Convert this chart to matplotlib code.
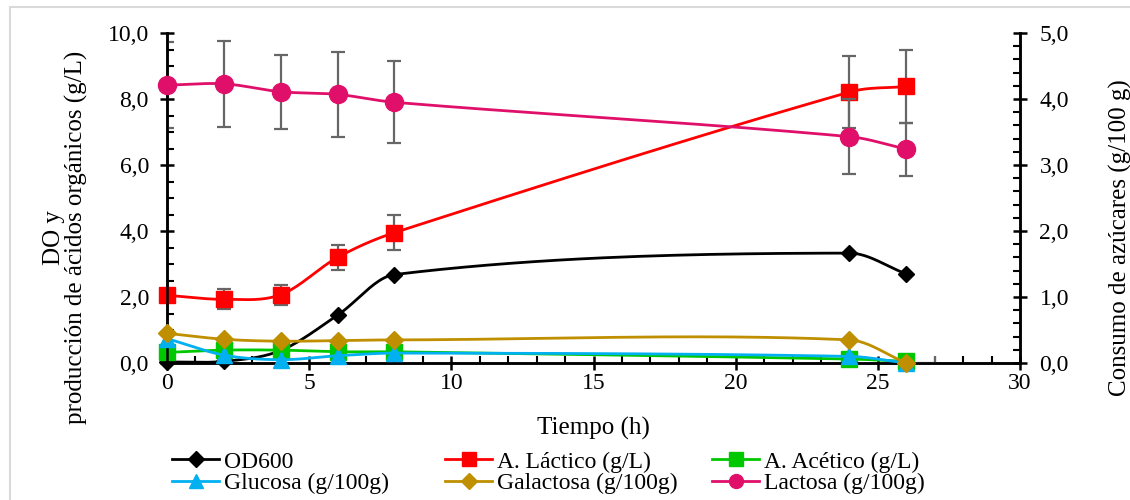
import numpy as np
import matplotlib
matplotlib.use('Agg')
import matplotlib.pyplot as plt
from matplotlib.lines import Line2D
from matplotlib.patches import Rectangle
from matplotlib.ticker import MultipleLocator, FuncFormatter

plt.rcParams['font.family'] = ['Liberation Serif', 'DejaVu Serif']
plt.rcParams['font.size'] = 17

# datos
tiempo = [0, 2, 4, 6, 8, 24, 26]
od600 = [0.03, 0.05, 0.38, 1.45, 2.68, 3.33, 2.70]
lactico = [2.05, 1.93, 2.07, 3.20, 3.95, 8.21, 8.38]
lactico_err = [0.12, 0.30, 0.30, 0.37, 0.54, 1.10, 1.10]
acetico = [0.32, 0.39, 0.39, 0.34, 0.34, 0.12, 0.05]
glucosa = [0.37, 0.12, 0.05, 0.11, 0.15, 0.10, 0.0]
galactosa = [0.45, 0.36, 0.33, 0.34, 0.35, 0.35, 0.0]
lactosa = [4.21, 4.23, 4.11, 4.07, 3.95, 3.43, 3.24]
lactosa_err = [0.65, 0.65, 0.56, 0.64, 0.62, 0.565, 0.40]
glucosa_xerr = [0, 0, 0, 0, 0, 0, 1.0]

col_od = 'black'
col_lac = '#FF0000'
col_ace = '#00C800'
col_glu = '#00B0F0'
col_gal = '#BF8F00'
col_lcs = '#E0106A'
col_err = '#666666'


def suavizar(x, y, n=40):
    # linea suavizada (Hermite cubico en x)
    x = np.array(x, float)
    y = np.array(y, float)
    m = np.zeros_like(y)
    m[1:-1] = (y[2:] - y[:-2]) / (x[2:] - x[:-2])
    m[0] = (y[1] - y[0]) / (x[1] - x[0])
    m[-1] = (y[-1] - y[-2]) / (x[-1] - x[-2])
    xs, ys = [x[0]], [y[0]]
    for i in range(len(x) - 1):
        h = x[i + 1] - x[i]
        s = np.linspace(0, 1, n)[1:]
        h00 = 2 * s ** 3 - 3 * s ** 2 + 1
        h10 = s ** 3 - 2 * s ** 2 + s
        h01 = -2 * s ** 3 + 3 * s ** 2
        h11 = s ** 3 - s ** 2
        xs.extend(x[i] + s * h)
        ys.extend(h00 * y[i] + h10 * h * m[i] + h01 * y[i + 1] + h11 * h * m[i + 1])
    return np.array(xs), np.array(ys)


fig = plt.figure(figsize=(11.3, 5), dpi=100)
fig.patches.append(Rectangle((10 / 1130, -0.1), 1.2, 1.1 - 7 / 500, transform=fig.transFigure,
                             fill=False, edgecolor='#D9D9D9', linewidth=1.5))

ax = fig.add_axes([167 / 1130, 1 - 363 / 500, (1020 - 167) / 1130, 330 / 500])
ax2 = ax.twinx()

lw = 2.0

# eje izquierdo
ax.errorbar(tiempo, lactico, yerr=lactico_err, fmt='none', ecolor=col_err, elinewidth=1.6, capsize=5, capthick=1.6, zorder=2)
for ys, c, m, ms in [(od600, col_od, 'D', 8.5), (lactico, col_lac, 's', 11.5), (acetico, col_ace, 's', 11.5)]:
    xs, yy = suavizar(tiempo, ys)
    ax.plot(xs, yy, color=c, lw=lw, zorder=3)
    ax.plot(tiempo, ys, ls='none', marker=m, ms=ms, color=c, zorder=4, clip_on=False)

# eje derecho
ax2.errorbar(tiempo, lactosa, yerr=lactosa_err, fmt='none', ecolor=col_err, elinewidth=1.6, capsize=5, capthick=1.6, zorder=2)
ax2.errorbar(tiempo, glucosa, xerr=[[0] * 7, glucosa_xerr], fmt='none', ecolor=col_err, elinewidth=1.6, capsize=5, capthick=1.6, zorder=2)
for ys, c, m, ms in [(glucosa, col_glu, '^', 11), (galactosa, col_gal, 'D', 9.5), (lactosa, col_lcs, 'o', 13)]:
    xs, yy = suavizar(tiempo, ys)
    ax2.plot(xs, yy, color=c, lw=lw, zorder=3)
    ax2.plot(tiempo, ys, ls='none', marker=m, ms=ms, color=c, zorder=4, clip_on=False)

coma = FuncFormatter(lambda v, p: f'{v:.1f}'.replace('.', ','))

ax.set_xlim(0, 30)
ax.set_ylim(0, 10)
ax2.set_ylim(0, 5)
ax.xaxis.set_major_locator(MultipleLocator(5))
ax.xaxis.set_minor_locator(MultipleLocator(1))
ax.yaxis.set_major_locator(MultipleLocator(2))
ax.yaxis.set_minor_locator(MultipleLocator(0.5))
ax2.yaxis.set_major_locator(MultipleLocator(1))
ax2.yaxis.set_minor_locator(MultipleLocator(0.2))
ax.yaxis.set_major_formatter(coma)
ax2.yaxis.set_major_formatter(coma)

for a in (ax, ax2):
    a.spines['top'].set_visible(False)
    for s in a.spines.values():
        s.set_linewidth(1.8)
    a.tick_params(which='major', direction='inout', length=10, width=1.8, labelsize=17)
    a.tick_params(which='minor', direction='in', length=5, width=1.5)
ax.tick_params(axis='y', which='major', pad=8)
ax2.tick_params(axis='y', which='major', pad=9)
ax.tick_params(axis='x', which='major', pad=2)

ax.set_xlabel('Tiempo (h)', fontsize=18, labelpad=17)
ax.set_ylabel('DO y\nproducción de ácidos orgánicos (g/L)', fontsize=18, linespacing=1.0)
ax.yaxis.set_label_coords(-0.093, 0.38)
ax2.set_ylabel('Consumo de azúcares (g/100 g)', fontsize=18)
ax2.yaxis.set_label_coords(1.104, 0.38)

# leyenda en tres columnas
entradas = [
    [('OD600', col_od, 'D', 8), ('Glucosa (g/100g)', col_glu, '^', 10)],
    [('A. Láctico (g/L)', col_lac, 's', 10), ('Galactosa (g/100g)', col_gal, 'D', 8)],
    [('A. Acético (g/L)', col_ace, 's', 10), ('Lactosa (g/100g)', col_lcs, 'o', 10)],
]
for xpos, col in zip([172, 445, 712], entradas):
    hs = [Line2D([], [], color=c, lw=lw, marker=m, ms=ms) for _, c, m, ms in col]
    fig.legend(hs, [t for t, _, _, _ in col], loc='upper left', bbox_to_anchor=(xpos / 1130, 1 - 451 / 500),
               frameon=False, borderpad=0, borderaxespad=0, handlelength=2.0, handletextpad=0.2,
               labelspacing=0.0, fontsize=17)

fig.savefig('out.png', dpi=100)
